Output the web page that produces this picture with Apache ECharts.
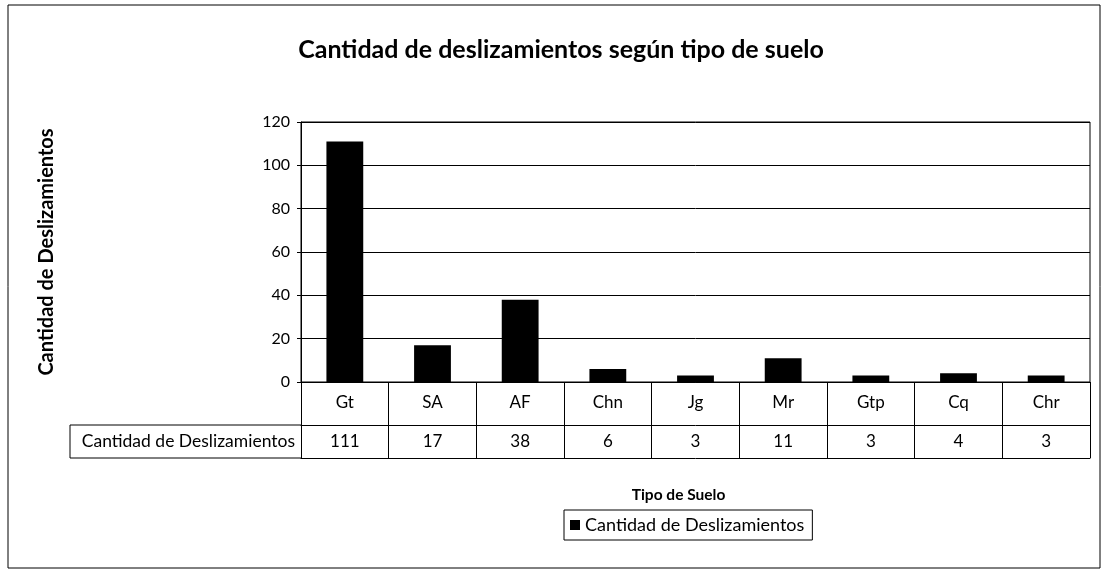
<!DOCTYPE html>
<html>
<head>
<meta charset="utf-8">
<script src="https://cdn.jsdelivr.net/npm/echarts@6/dist/echarts.min.js"></script>
<style>
  html, body { margin: 0; padding: 0; background: #fff; }
  #chart { width: 1109px; height: 580px; }
</style>
</head>
<body>
<div id="chart"></div>
<script>
var tiposSuelo = ['Gt', 'SA', 'AF', 'Chn', 'Jg', 'Mr', 'Gtp', 'Cq', 'Chr'];
var deslizamientos = [111, 17, 38, 6, 3, 11, 3, 4, 3];
var serieNombre = 'Cantidad de Deslizamientos';

var fuente = 'Lato, "DejaVu Sans", sans-serif';
var chart = echarts.init(document.getElementById('chart'));

var option = {
    backgroundColor: '#fff',
    textStyle: { fontFamily: fuente, color: '#000' },
    title: {
        text: 'Cantidad de deslizamientos según tipo de suelo',
        left: 556,
        textAlign: 'center',
        top: 32,
        textStyle: { fontSize: 25, fontWeight: 'bold', color: '#000', fontFamily: fuente }
    },
    legend: {
        data: [serieNombre],
        left: 564,
        top: 510,
        icon: 'rect',
        itemWidth: 10,
        itemHeight: 10,
        itemGap: 6,
        padding: [6, 8, 6, 6],
        borderColor: '#000',
        borderWidth: 1,
        textStyle: { fontSize: 18, color: '#000', fontFamily: fuente }
    },
    grid: {
        left: 301,
        right: 19,
        top: 122,
        bottom: 198,
        show: true,
        borderColor: '#000',
        borderWidth: 1
    },
    xAxis: [
        {
            type: 'category',
            data: tiposSuelo,
            position: 'bottom',
            axisLine: { lineStyle: { color: '#000', width: 1 } },
            axisTick: { show: true, length: 76, lineStyle: { color: '#000' } },
            axisLabel: { fontSize: 17, color: '#000', margin: 12, fontFamily: fuente }
        },
        {
            type: 'category',
            data: deslizamientos.map(String),
            position: 'bottom',
            offset: 43,
            axisLine: { lineStyle: { color: '#000', width: 1 } },
            axisTick: { show: false },
            axisLabel: { fontSize: 17, color: '#000', margin: 8, fontFamily: fuente },
            name: serieNombre,
            nameLocation: 'start',
            nameGap: 6,
            nameTextStyle: { fontSize: 17.5, color: '#000', verticalAlign: 'top', padding: [7, 0, 0, 0], fontFamily: fuente }
        },
        {
            type: 'category',
            data: tiposSuelo,
            position: 'bottom',
            offset: 76,
            axisLine: { lineStyle: { color: '#000', width: 1 } },
            axisTick: { show: false },
            axisLabel: { show: false },
            name: 'Tipo de Suelo',
            nameLocation: 'middle',
            nameGap: 29,
            nameTextStyle: { fontSize: 15.5, fontWeight: 'bold', color: '#000', fontFamily: fuente, padding: [0, 34, 0, 0] }
        }
    ],
    yAxis: {
        type: 'value',
        min: 0,
        max: 120,
        interval: 20,
        axisLine: { show: true, lineStyle: { color: '#000' } },
        axisTick: { show: true, length: 4, lineStyle: { color: '#000' } },
        axisLabel: { fontSize: 16, color: '#000', margin: 11, fontFamily: fuente },
        splitLine: { show: true, lineStyle: { color: '#000', width: 1 } },
        name: serieNombre,
        nameLocation: 'middle',
        nameGap: 244,
        nameTextStyle: { fontSize: 20, fontWeight: 'bold', color: '#000', fontFamily: fuente }
    },
    graphic: [
        // marco exterior del grafico
        { type: 'rect', shape: { x: 8, y: 5, width: 1092, height: 563 }, style: { fill: null, stroke: '#000', lineWidth: 1 }, silent: true },
        // celda de la leyenda de la tabla
        { type: 'line', shape: { x1: 70, y1: 425, x2: 301, y2: 425 }, style: { stroke: '#000', lineWidth: 1 } },
        { type: 'line', shape: { x1: 70, y1: 458, x2: 301, y2: 458 }, style: { stroke: '#000', lineWidth: 1 } },
        { type: 'line', shape: { x1: 70, y1: 425, x2: 70, y2: 458 }, style: { stroke: '#000', lineWidth: 1 } }
    ],
    series: [
        {
            name: serieNombre,
            type: 'bar',
            data: deslizamientos,
            barWidth: '42%',
            itemStyle: { color: '#000' }
        }
    ]
};

chart.setOption(option);
</script>
</body>
</html>
